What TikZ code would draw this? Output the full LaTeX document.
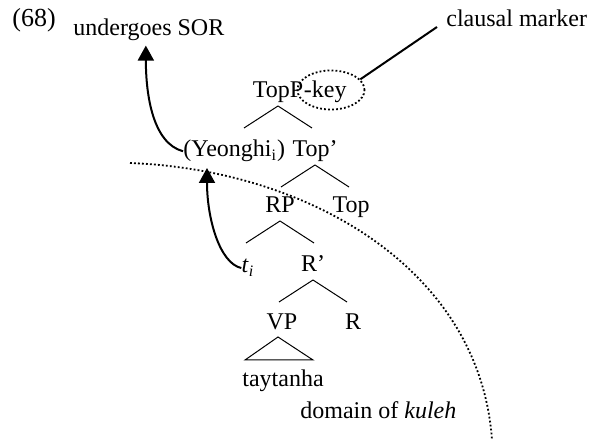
\documentclass[tikz,border=0pt]{standalone}
\usepackage{fontspec}
\setmainfont{Liberation Serif}
\usetikzlibrary{arrows.meta,shapes.geometric}

\tikzset{
  lbl/.style={inner sep=0pt, anchor=base, font=\fontsize{12}{14}\selectfont},
  branch/.style={line width=0.5pt},
  move/.style={line width=1pt, -{Triangle[length=7.5pt,width=8pt]}},
  dots/.style={line width=0.9pt, dash pattern=on 0.9pt off 1.1pt}
}

\begin{document}
\begin{tikzpicture}[x=0.5pt,y=-0.5pt]
        \useasboundingbox (0,0) rectangle (589,442);

        \node[lbl, anchor=base west, font=\fontsize{13}{15}\selectfont] (num) at (12,27) {(68)};
        \node[lbl, anchor=base west] (sor) at (73,36) {undergoes SOR};
        \node[lbl, anchor=base west] (clausal) at (446,27) {clausal marker};

        \node[lbl] (topp) at (278,98) {TopP};
        \node[lbl, anchor=base west] (key) at (topp.base east) {-key};
        \node[lbl, anchor=base west] (yeonghi) at (183,157) {(Yeonghi\textsubscript{i})};
        \node[lbl] (topbar) at (315,157) {Top’};
        \node[lbl] (rp) at (280,213) {RP};
        \node[lbl] (top) at (351,213) {Top};
        \node[lbl] (ti) at (248,273) {\textit{t}\textsubscript{\textit{i}}};
        \node[lbl] (rbar) at (313,272) {R’};
        \node[lbl] (vp) at (282,330) {VP};
        \node[lbl] (r) at (353,330) {R};
        \node[lbl] (word) at (283,387) {taytanha};
        \node[lbl, anchor=base west] (domain) at (300,419) {domain of \textit{kuleh}};

        \foreach \m in {topp,topbar,rp,rbar}
          \draw[branch] ([yshift=-4pt]\m.base) -- +(-34,22)
                        ([yshift=-4pt]\m.base) -- +(34,22);
        \draw[branch] ([shift={(-2pt,-3.5pt)}]vp.base) -- +(-33,23) -- +(35,23) -- cycle;

        \node[draw, dots, ellipse, minimum width=33.5pt, minimum height=19.5pt] (mark) at (331,90) {};
        \draw[line width=1pt] (mark.20) -- ([xshift=-4.5pt]clausal.base west);

        \coordinate (land) at (207,168);
        \draw[dots] (130,163) .. controls (310,170) and (480,270) .. (492,440);

        \draw[move] (yeonghi.west) .. controls +(-30,-8) and +(0,50) .. ([xshift=-1.5pt,yshift=-2pt]sor.south);
        \draw[move] (ti.west) .. controls +(-22,-5) and +(0,50) .. (land);
\end{tikzpicture}
\end{document}
